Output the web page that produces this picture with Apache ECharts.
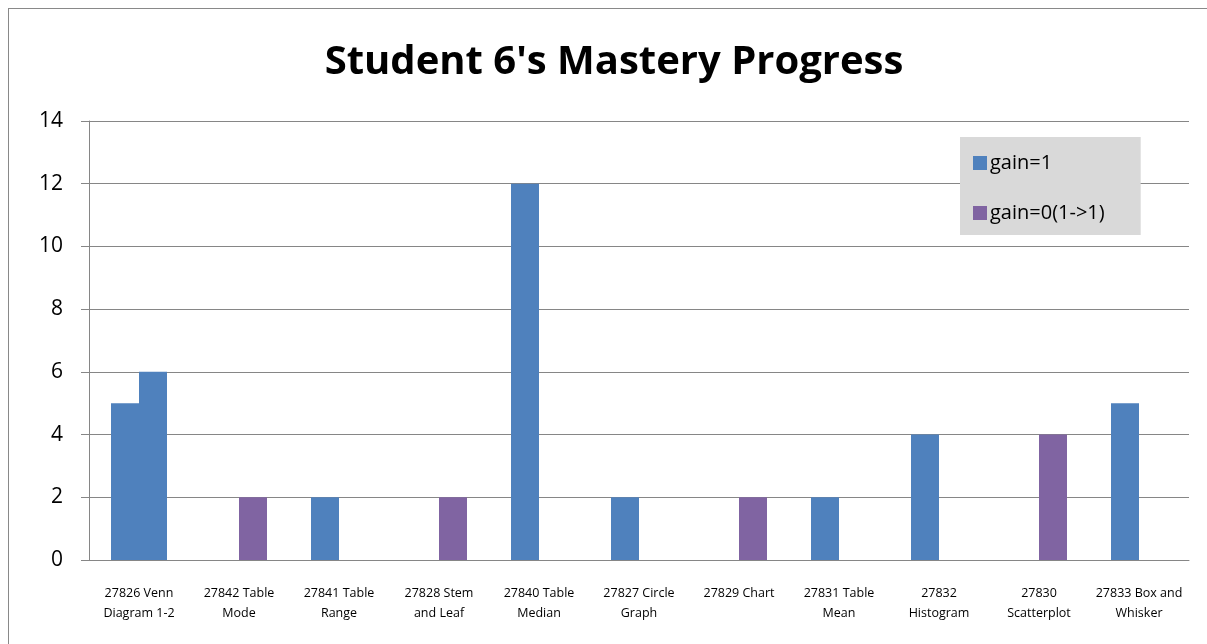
<!DOCTYPE html>
<html>
<head>
<meta charset="utf-8">
<script src="https://cdn.jsdelivr.net/npm/echarts@6/dist/echarts.min.js"></script>
<style>
  html, body { margin: 0; padding: 0; background: #fff; }
  #frame {
    position: absolute; left: 8px; top: 8px; width: 1210px; height: 650px;
    border: 1px solid #898989; box-sizing: border-box;
  }
  #chart { width: 1207px; height: 644px; }
</style>
</head>
<body>
<div id="frame"></div>
<div id="chart"></div>
<script>
const categories = [
  '27826 Venn\nDiagram 1-2', '27842 Table\nMode', '27841 Table\nRange', '27828 Stem\nand Leaf',
  '27840 Table\nMedian', '27827 Circle\nGraph', '27829 Chart', '27831 Table\nMean',
  '27832\nHistogram', '27830\nScatterplot', '27833 Box and\nWhisker'
]
const gainOne = [5, '-', 2, '-', 12, 2, '-', 2, 4, '-', 5]
const gainZero = [6, 2, '-', 2, '-', '-', 2, '-', '-', 4, '-']
// the first right-hand bar is painted blue in the source
const blueInZero = [0]

const BLUE = '#4f81bd'
const PURPLE = '#8064a2'
const FONT = '"Open Sans", "Noto Sans", sans-serif'

const chart = echarts.init(document.getElementById('chart'))
chart.setOption({
  animation: false,
  title: {
    text: "Student 6's Mastery Progress",
    left: 609,
    textAlign: 'center',
    top: 38,
    textStyle: { fontFamily: FONT, fontSize: 40, fontWeight: 'bold', color: '#000' }
  },
  legend: {
    orient: 'vertical',
    left: 960,
    top: 137,
    backgroundColor: '#d9d9d9',
    borderRadius: 0,
    padding: [16, 36, 12, 13],
    itemWidth: 14,
    itemHeight: 14,
    itemGap: 30,
    icon: 'rect',
    textStyle: { fontFamily: FONT, fontSize: 20, color: '#000', padding: [0, 0, 0, -2] }
  },
  grid: { left: 89, right: 18, top: 121, bottom: 84 },
  xAxis: {
    type: 'category',
    data: categories,
    axisLine: { lineStyle: { color: '#868686' } },
    axisTick: { length: 6, lineStyle: { color: '#868686' } },
    axisLabel: { interval: 0, fontFamily: FONT, fontSize: 12.5, color: '#000', lineHeight: 20, margin: 23 }
  },
  yAxis: {
    type: 'value',
    min: 0,
    max: 14,
    interval: 2,
    axisLine: { show: true, lineStyle: { color: '#868686' } },
    axisTick: { show: true, length: 8, lineStyle: { color: '#868686' } },
    axisLabel: { fontFamily: FONT, fontSize: 21, color: '#000', margin: 26 },
    splitLine: { lineStyle: { color: '#868686' } }
  },
  series: [
    {
      name: 'gain=1',
      type: 'bar',
      data: gainOne,
      barGap: 0,
      barCategoryGap: '44%',
      itemStyle: { color: BLUE }
    },
    {
      name: 'gain=0(1->1)',
      type: 'bar',
      data: gainZero.map((v, i) => blueInZero.includes(i) ? { value: v, itemStyle: { color: BLUE } } : v),
      itemStyle: { color: PURPLE }
    }
  ]
})
</script>
</body>
</html>
